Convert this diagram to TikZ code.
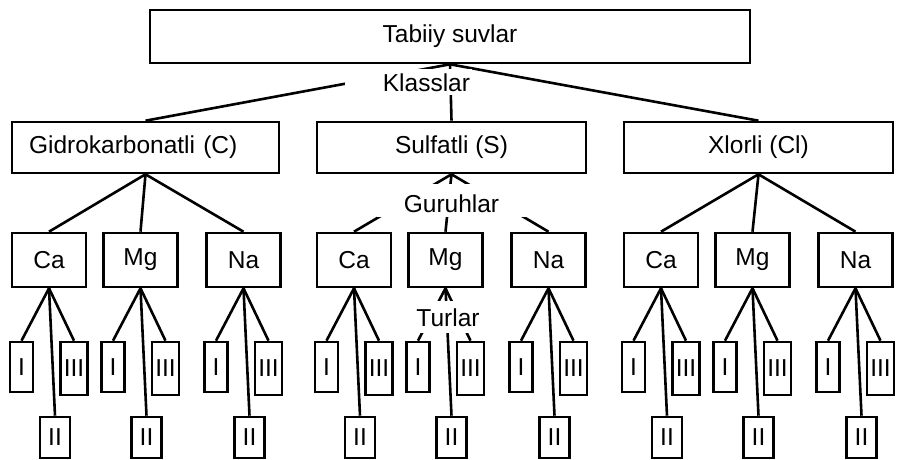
\documentclass[tikz,border=0pt]{standalone}
\usepackage{fontspec}
\setmainfont{Liberation Sans}
\begin{document}
\begin{tikzpicture}[x=1pt,y=-1pt,
  font=\fontsize{24.5}{29}\selectfont,
  box/.style={draw, line width=2.6pt, inner sep=0pt},
  conn/.style={line width=2.6pt},
  lbl/.style={fill=white, inner sep=0pt}]
\useasboundingbox (0,0) rectangle (900,460);

% top
\node[box, minimum width=600pt, minimum height=53pt] (top) at (450,36.5) {Tabiiy suvlar};

% classes
\node[box, minimum width=267pt, minimum height=51pt, text width=233pt, inner xsep=17pt, align=left] (c1) at (145.5,147.5) {Gidrokarbonatli (C)};
\node[box, minimum width=269pt, minimum height=51pt] (c2) at (451.5,147.5) {Sulfatli (S)};
\node[box, minimum width=269pt, minimum height=51pt] (c3) at (758.5,147.5) {Xlorli (Cl)};

\foreach \i in {1,2,3} \draw[conn] (top.south) -- (c\i.north);

% groups and types
\foreach \L/\i in {12/1,317/2,624/3}{
  \foreach \o/\e/\j in {37/Ca/1,128.5/Mg/2,231.5/Na/3}{
    \pgfmathsetmacro{\cx}{\L+\o}
    \node[box, minimum width=74pt, minimum height=54pt] (g\i\j) at (\cx,260) {\e};
    \node[box, minimum width=23pt, minimum height=50pt] (a\i\j) at (\cx-27.5,367) {I};
    \node[box, minimum width=27pt, minimum height=53pt] (d\i\j) at (\cx+25,368.5) {III};
    \node[box, minimum width=30pt, minimum height=41pt] (b\i\j) at (\cx+6,437.5) {II};
    \draw[conn] (c\i.south) -- (g\i\j.north);
    \draw[conn] (g\i\j.south) -- (a\i\j.north);
    \draw[conn] (g\i\j.south) -- (d\i\j.north);
    \draw[conn] (g\i\j.south) -- (b\i\j.north);
  }
}

% labels
\node[lbl, minimum width=127pt, minimum height=26pt, text width=123pt, align=right, text height=20pt, text depth=0pt] (kl) at (408.5,82) {Klasslar};
\node[lbl, minimum width=150pt, minimum height=33pt, text height=24pt, text depth=1pt] (gr) at (451.5,200.5) {Guruhlar};
\node[lbl, minimum width=72pt, minimum height=32pt, text height=18pt, text depth=0pt] (tu) at (448,317) {Turlar};
\end{tikzpicture}
\end{document}
